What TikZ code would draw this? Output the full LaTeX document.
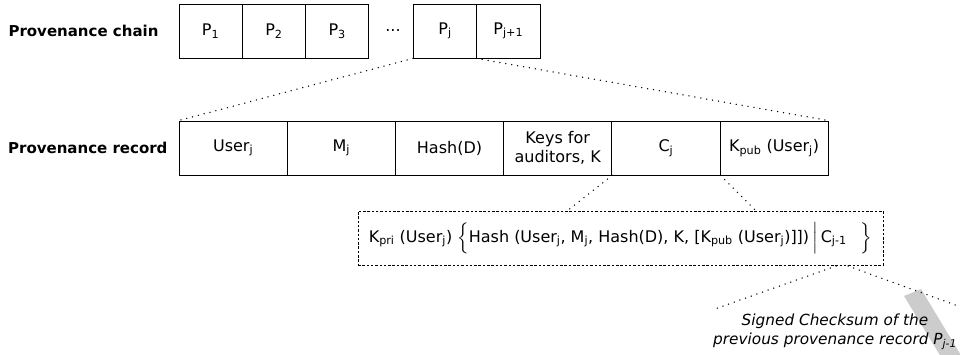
\documentclass[tikz,border=0pt]{standalone}
\usepackage{amsmath}
\usepackage{fontspec}
\setmainfont{DejaVu Sans}
\usepackage{tikz}
\definecolor{bandgray}{gray}{0.8}
\newcommand{\lo}[1]{\textsubscript{#1}}
\newcommand{\diagfont}{\fontsize{16}{19}\selectfont}

\begin{document}
\begin{tikzpicture}[x=1pt,y=-1pt,font=\diagfont]
  \def\cw{63.3}
  \def\rw{108.2}
  \tikzset{cell/.style={draw,line width=0.8pt,minimum width=\cw pt,minimum height=54pt,inner sep=0pt}}
  \tikzset{field/.style={cell,minimum width=\rw pt,align=center}}
  \tikzset{rowlabel/.style={anchor=east,font=\fontsize{15}{18}\selectfont\bfseries}}
  \tikzset{zoomline/.style={line width=1.5pt,dash pattern=on 0pt off 6pt,line cap=round}}
  \tikzset{detailbox/.style={draw,line width=0.6pt,dash pattern=on 2.5pt off 1.8pt,minimum width=525pt,minimum height=54pt,inner sep=0pt}}
  \useasboundingbox (0,0) rectangle (960,355);
  \fill[bandgray] (904,296) -- (921,289) -- (962,357) -- (941,357) -- cycle;
  % provenance chain
  \node[rowlabel] (chainlabel) at (162,31) {Provenance chain};
  \node[cell] (p1) at (210.6,31) {P\lo{1}};
  \node[cell] (p2) at (273.9,31) {P\lo{2}};
  \node[cell] (p3) at (337.2,31) {P\lo{3}};
  \node (dots) at (393,31) {...};
  \node[cell] (pj) at (445,31) {P\lo{j}};
  \node[cell] (pj1) at (508.3,31) {P\lo{j+1}};
  % provenance record
  \node[rowlabel] (reclabel) at (171,148) {Provenance record};
  \node[field] (user) at (233.1,148) {User\lo{j}};
  \node[field] (mj) at (341.3,148) {M\lo{j}};
  \node[field] (hash) at (449.5,148) {Hash(D)};
  \node[field] (keys) at (557.7,148) {Keys for\\auditors, K};
  \node[field] (cj) at (665.9,148) {C\lo{j}};
  \node[field] (kpub) at (774.1,148) {K\lo{pub} (User\lo{j})};
  \draw[zoomline] (pj.south west) -- (user.north west);
  \draw[zoomline] (pj1.south west) -- (kpub.north east);
  % signed checksum
  \node[detailbox] (detail) at (620.5,238) {K\lo{pri} (User\lo{j}) $\left\{\rule[-10pt]{0pt}{29pt}\mbox{Hash (User\lo{j}, M\lo{j}, Hash(D), K, [K\lo{pub} (User\lo{j})]])}\,\middle|\,\mbox{C\lo{j-1}}\hspace{14pt}\right\}$};
  \coordinate (dl) at (567,211);
  \coordinate (dr) at (756,211);
  \draw[zoomline] (keys.south east) -- (dl);
  \draw[zoomline] (cj.south east) -- (dr);
  \coordinate (cl) at (836,266);
  \coordinate (cr) at (848,266);
  \coordinate (sl) at (712,310);
  \coordinate (sr) at (958,306);
  \draw[zoomline] (cl) -- (sl);
  \draw[zoomline] (cr) -- (sr);
  \node[align=center,font=\fontsize{15.3}{19}\selectfont\itshape] (sig) at (835,332) {Signed Checksum of the\\previous provenance record P\lo{j-1}};
\end{tikzpicture}
\end{document}
